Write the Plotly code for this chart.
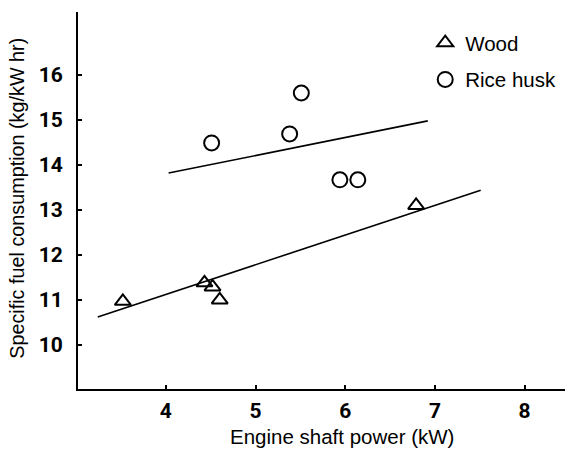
import plotly.graph_objects as go

# Data
wood_power = [3.52, 4.43, 4.52, 4.60, 6.79]
wood_sfc = [10.97, 11.38, 11.29, 11.00, 13.10]
husk_power = [4.51, 5.38, 5.51, 5.94, 6.14]
husk_sfc = [14.49, 14.69, 15.60, 13.67, 13.67]
wood_fit_x = [3.24, 7.51]
wood_fit_y = [10.62, 13.44]
husk_fit_x = [4.03, 6.92]
husk_fit_y = [13.82, 14.98]
x_ticks = [4, 5, 6, 7, 8]
y_ticks = [10, 11, 12, 13, 14, 15, 16]
x_title = "Engine shaft power (kW)"
y_title = "Specific fuel consumption (kg/kW hr)"

fig = go.Figure()
fig.add_trace(go.Scatter(x=wood_fit_x, y=wood_fit_y, mode="lines",
                         line=dict(color="black", width=1.6), showlegend=False, hoverinfo="skip"))
fig.add_trace(go.Scatter(x=husk_fit_x, y=husk_fit_y, mode="lines",
                         line=dict(color="black", width=1.6), showlegend=False, hoverinfo="skip"))
fig.add_trace(go.Scatter(x=wood_power, y=wood_sfc, mode="markers", name="Wood", legendgroup="w",
                         marker=dict(symbol="triangle-up-open", size=14, color="black",
                                     line=dict(width=2, color="black"))))
fig.add_trace(go.Scatter(x=husk_power, y=husk_sfc, mode="markers", name="Rice husk", legendgroup="r",
                         marker=dict(symbol="circle-open", size=15, color="black",
                                     line=dict(width=2, color="black"))))

tickfont = dict(family="Roboto, DejaVu Sans Condensed", size=21,
                color="black", weight="bold")
titlefont = dict(family="Liberation Sans, Arial, Helvetica", size=20.5, color="black")
ytitlefont = dict(family="Liberation Sans, Arial, Helvetica", size=19.8, color="black")

fig.update_layout(
    width=567, height=454,
    margin=dict(l=78, r=2, t=12, b=65),
    paper_bgcolor="white", plot_bgcolor="white",
    showlegend=True,
    legend=dict(x=0.713, y=0.971, xanchor="left", yanchor="top", bgcolor="rgba(0,0,0,0)",
                font=dict(family="Liberation Sans, Arial", size=20.5, color="black"),
                itemsizing="trace", tracegroupgap=7),
    xaxis=dict(range=[3.02, 8.45], tickvals=x_ticks, showgrid=False, zeroline=False,
               showline=True, linecolor="black", linewidth=2, automargin=False,
               ticks="inside", ticklen=4, tickwidth=1.5, tickcolor="black",
               tickfont=tickfont, ticklabelstandoff=2),
    yaxis=dict(range=[9.02, 17.4], tickvals=y_ticks, showgrid=False, zeroline=False,
               showline=True, linecolor="black", linewidth=2, automargin=False,
               ticks="inside", ticklen=4, tickwidth=1.5, tickcolor="black",
               tickfont=tickfont, ticklabelstandoff=9),
    annotations=[
        dict(text=x_title, xref="paper", yref="paper", x=0.542, y=-0.127,
             xanchor="center", yanchor="middle", showarrow=False, font=titlefont),
        dict(text=y_title, xref="paper", yref="paper", x=-0.127, y=0.505, textangle=-90,
             xanchor="center", yanchor="middle", showarrow=False, font=ytitlefont),
    ],
)

fig.write_html("out.html", config={"displayModeBar": False},
               post_script="document.body.style.margin='0';")
